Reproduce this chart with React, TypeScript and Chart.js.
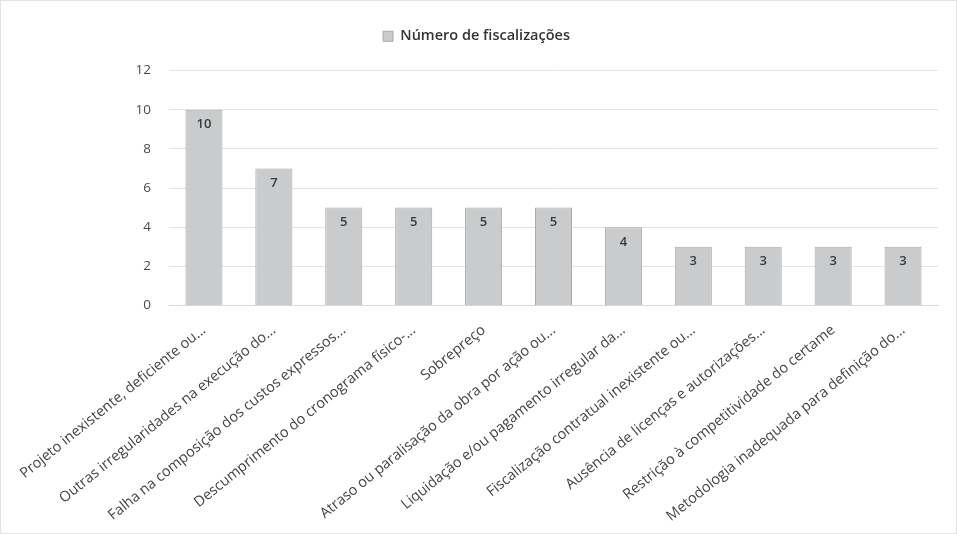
import React, { useEffect, useRef } from "react";
import { Chart, registerables } from "chart.js";

Chart.register(...registerables);

const categories: string[] = [
  "Projeto inexistente, deficiente ou...",
  "Outras irregularidades na execução do...",
  "Falha na composição dos custos expressos...",
  "Descumprimento do cronograma físico-...",
  "Sobrepreço",
  "Atraso ou paralisação da obra por ação ou...",
  "Liquidação e/ou pagamento irregular da...",
  "Fiscalização contratual inexistente ou...",
  "Ausência de licenças e autorizações...",
  "Restrição à competitividade do certame",
  "Metodologia inadequada para definição do...",
];

const values: number[] = [10, 7, 5, 5, 5, 5, 4, 3, 3, 3, 3];

const seriesName = "Número de fiscalizações";

const FONT = "'Open Sans', 'Noto Sans', sans-serif";

const valueLabels = {
  id: "valueLabels",
  afterDatasetsDraw(chart: any) {
    const ctx = chart.ctx;
    const meta = chart.getDatasetMeta(0);
    ctx.save();
    ctx.font = `600 13px ${FONT}`;
    ctx.fillStyle = "#3a3a3a";
    ctx.textAlign = "center";
    ctx.textBaseline = "middle";
    meta.data.forEach((bar: any, i: number) => {
      ctx.fillText(String(values[i]), bar.x, bar.y + 15);
    });
    ctx.restore();
  },
};

const legendGap = {
  id: "legendGap",
  beforeInit(chart: any) {
    const legend = chart.legend;
    if (!legend) return;
    const orig = legend.fit;
    legend.fit = function () {
      orig.call(this);
      this.height += 17;
    };
  },
};

export default function App() {
  const ref = useRef<HTMLCanvasElement | null>(null);

  useEffect(() => {
    document.body.style.margin = "0";
    if (!ref.current) return;
    const chart = new Chart(ref.current, {
      type: "bar",
      data: {
        labels: categories,
        datasets: [
          {
            label: seriesName,
            data: values,
            backgroundColor: "#cacbcc",
            borderColor: "#a9a9a9",
            borderWidth: 1,
            barPercentage: 0.53,
            categoryPercentage: 1,
          },
        ],
      },
      options: {
        animation: false,
        responsive: false,
        maintainAspectRatio: false,
        layout: { padding: { top: 18, right: 18, left: 14, bottom: 0 } },
        plugins: {
          legend: {
            position: "top",
            labels: {
              boxWidth: 10,
              boxHeight: 10,
              color: "#333",
              font: { family: FONT, size: 14.5, weight: 600 },
              padding: 10,
            },
          },
          tooltip: { enabled: false },
        },
        scales: {
          x: {
            grid: { display: false },
            border: { display: true, color: "#d8d8d8" },
            ticks: {
              autoSkip: false,
              maxRotation: 39,
              minRotation: 39,
              padding: 8,
              color: "#444",
              font: { family: FONT, size: 14.5 },
            },
          },
          y: {
            min: 0,
            max: 12,
            afterFit(scale: any) {
              scale.width = 154;
            },
            ticks: {
              stepSize: 2,
              color: "#4a4a4a",
              padding: 18,
              font: { family: FONT, size: 13.5 },
            },
            grid: { color: "#e4e4e4", drawTicks: false },
            border: { display: false },
          },
        },
      },
      plugins: [valueLabels, legendGap],
    });
    return () => chart.destroy();
  }, []);

  return (
    <div style={{ width: 957, height: 534, boxSizing: "border-box", border: "1px solid #e2e2e2", background: "#fff" }}>
      <canvas ref={ref} width={955} height={532} />
    </div>
  );
}
